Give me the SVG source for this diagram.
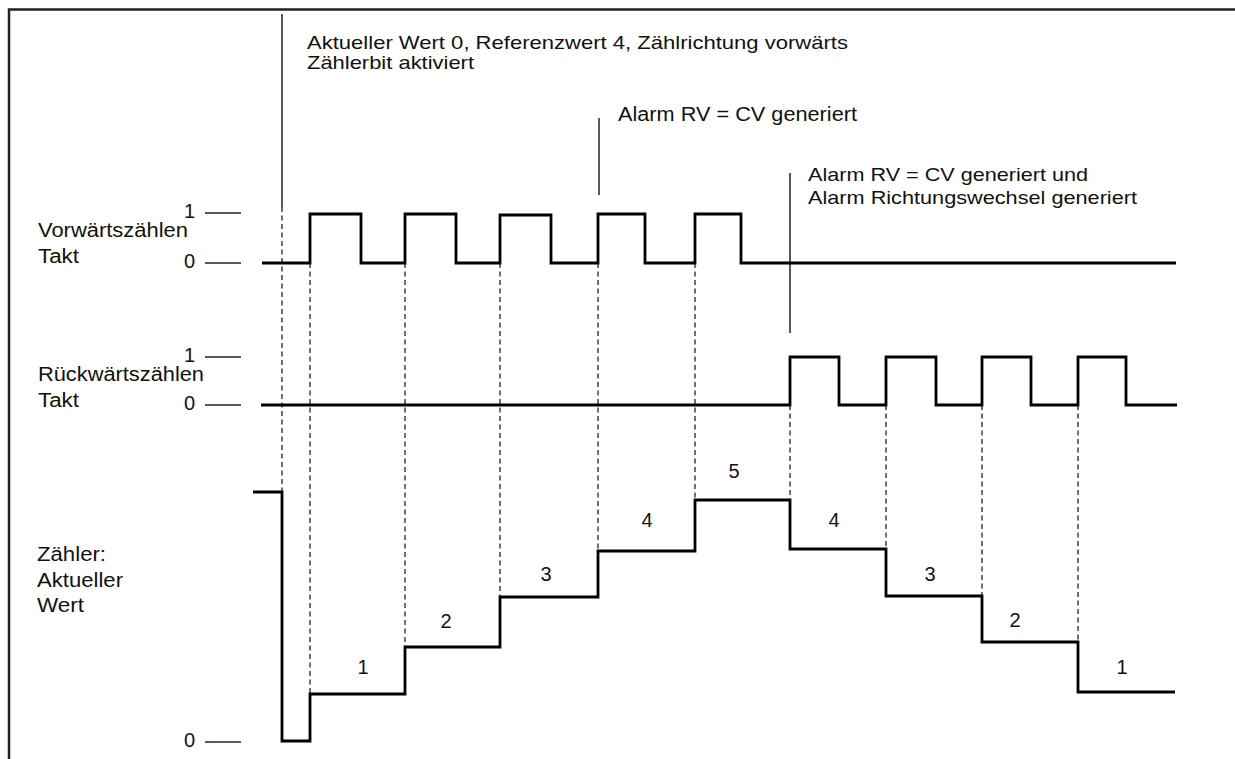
<svg xmlns="http://www.w3.org/2000/svg" width="1235" height="759" viewBox="0 0 1235 759">
<style>
.wave{fill:none;stroke:#000;stroke-width:2.8;stroke-linejoin:miter;stroke-linecap:butt}
.dash{fill:none;stroke:#222;stroke-width:1.3;stroke-dasharray:5 3.5}
.thin{fill:none;stroke:#222;stroke-width:1.5}
.frame{fill:none;stroke:#222;stroke-width:2.5}
text{font-family:"Liberation Sans",Arial,sans-serif;font-size:20px;fill:#111}
.num{text-anchor:middle}
.tight{font-size:18.5px}
</style>
<rect width="1235" height="759" fill="#fff"/>
<g id="frame">
<path class="frame" d="M9,759 V9.5 H1235"/>
</g>
<g id="labels">
<text x="38" y="237" textLength="150" lengthAdjust="spacingAndGlyphs">Vorwärtszählen</text>
<text x="38" y="263" textLength="41" lengthAdjust="spacingAndGlyphs">Takt</text>
<text x="184" y="218">1</text>
<text x="184" y="268">0</text>
<line class="thin" x1="205" y1="213" x2="241" y2="213"/>
<line class="thin" x1="205" y1="263" x2="241" y2="263"/>
<text x="38" y="381" textLength="166" lengthAdjust="spacingAndGlyphs">Rückwärtszählen</text>
<text x="38" y="407" textLength="41" lengthAdjust="spacingAndGlyphs">Takt</text>
<text x="184" y="362">1</text>
<text x="184" y="410">0</text>
<line class="thin" x1="205" y1="357" x2="241" y2="357"/>
<line class="thin" x1="205" y1="405" x2="241" y2="405"/>
<text x="37" y="561" textLength="69" lengthAdjust="spacingAndGlyphs">Zähler:</text>
<text x="37" y="587" textLength="86" lengthAdjust="spacingAndGlyphs">Aktueller</text>
<text x="37" y="612" textLength="47" lengthAdjust="spacingAndGlyphs">Wert</text>
<text x="184" y="747">0</text>
<line class="thin" x1="205" y1="742" x2="241" y2="742"/>
</g>
<g id="connectors">
<line class="dash" x1="282" y1="207" x2="282" y2="492"/>
<line class="dash" x1="310" y1="263" x2="310" y2="694"/>
<line class="dash" x1="405" y1="263" x2="405" y2="647"/>
<line class="dash" x1="500" y1="263" x2="500" y2="597"/>
<line class="dash" x1="598" y1="263" x2="598" y2="551"/>
<line class="dash" x1="695" y1="263" x2="695" y2="500"/>
<line class="dash" x1="790" y1="405" x2="790" y2="500"/>
<line class="dash" x1="886" y1="405" x2="886" y2="549"/>
<line class="dash" x1="982" y1="405" x2="982" y2="596"/>
<line class="dash" x1="1078" y1="405" x2="1078" y2="642"/>
<line class="thin" x1="282" y1="14" x2="282" y2="207"/>
<line class="thin" x1="599" y1="118" x2="599" y2="195"/>
<line class="thin" x1="790" y1="173" x2="790" y2="333"/>
</g>
<g id="signal-forward">
<path class="wave" d="M262,263 H310 V214 H361 V263 H405 V214 H456 V263 H500 V215 H551 V263 H598 V214 H645 V263 H695 V214 H741 V263 H1176"/>
</g>
<g id="signal-backward">
<path class="wave" d="M261,405 H790 V357 H839 V405 H886 V357 H936 V405 H982 V357 H1031 V405 H1078 V357 H1126 V405 H1177"/>
</g>
<g id="counter">
<path class="wave" d="M253,492 H282 V741 H310 V694 H405 V647 H500 V597 H598 V551 H695 V500 H790 V549 H886 V596 H982 V642 H1078 V692 H1175"/>
<text class="num" x="363" y="674">1</text>
<text class="num" x="446" y="628">2</text>
<text class="num" x="546" y="581">3</text>
<text class="num" x="647" y="527">4</text>
<text class="num" x="734" y="478">5</text>
<text class="num" x="834" y="527">4</text>
<text class="num" x="930" y="581">3</text>
<text class="num" x="1015" y="627">2</text>
<text class="num" x="1122" y="674">1</text>
</g>
<g id="annotations">
<text class="tight" x="307" y="49" textLength="541" lengthAdjust="spacingAndGlyphs">Aktueller Wert 0, Referenzwert 4, Zählrichtung vorwärts</text>
<text class="tight" x="307" y="69" textLength="167" lengthAdjust="spacingAndGlyphs">Zählerbit aktiviert</text>
<text x="618" y="121" textLength="239" lengthAdjust="spacingAndGlyphs">Alarm RV = CV generiert</text>
<text class="tight" x="808" y="181" textLength="280" lengthAdjust="spacingAndGlyphs">Alarm RV = CV generiert und</text>
<text class="tight" x="808" y="204" textLength="329" lengthAdjust="spacingAndGlyphs">Alarm Richtungswechsel generiert</text>
</g>
</svg>
